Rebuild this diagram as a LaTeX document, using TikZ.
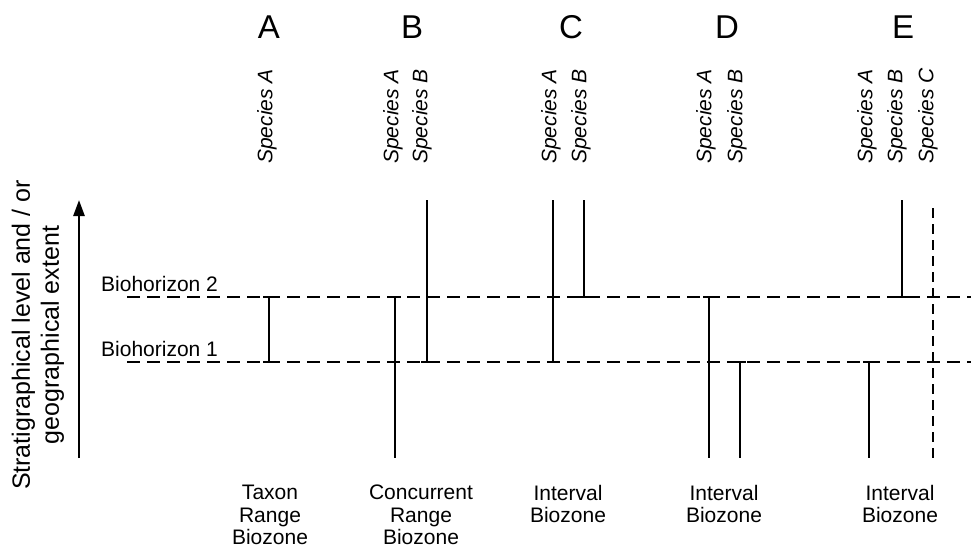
\documentclass[tikz,border=0pt]{standalone}
\usepackage{fontspec}
\setmainfont{Liberation Sans}
\usetikzlibrary{arrows.meta}
\begin{document}
\begin{tikzpicture}[x=1pt,y=-1pt,
  bigletter/.style={font=\fontsize{33}{33}\selectfont, anchor=base, inner sep=0pt},
  specieslabel/.style={font=\fontsize{21}{21}\selectfont\itshape, rotate=90, anchor=west, inner sep=0pt},
  zonelabel/.style={font=\fontsize{21}{22.5}\selectfont, align=center, anchor=north, inner sep=0pt},
  horizonlabel/.style={font=\fontsize{21}{21}\selectfont, anchor=base west, inner sep=0pt},
  rangeline/.style={line width=2.2pt},
  cdashline/.style={line width=2.6pt, dash pattern=on 10pt off 6pt},
  hdashline/.style={line width=1.5pt, dash pattern=on 13pt off 7pt}]
\useasboundingbox (0,0) rectangle (971,550);
% letters
\node[bigletter] (lA) at (269,38) {A};
\node[bigletter] (lB) at (412,38) {B};
\node[bigletter] (lC) at (571,38) {C};
\node[bigletter] (lD) at (727,38) {D};
\node[bigletter] (lE) at (903,38) {E};
% species labels
\node[specieslabel] (sAA) at (267,164) {Species A};
\node[specieslabel] (sBA) at (393,164) {Species A};
\node[specieslabel] (sBB) at (422,164) {Species B};
\node[specieslabel] (sCA) at (551,164) {Species A};
\node[specieslabel] (sCB) at (581,164) {Species B};
\node[specieslabel] (sDA) at (706,164) {Species A};
\node[specieslabel] (sDB) at (737,164) {Species B};
\node[specieslabel] (sEA) at (867,164) {Species A};
\node[specieslabel] (sEB) at (897,164) {Species B};
\node[specieslabel] (sEC) at (928,164) {Species C};
% axis
\coordinate (ax0) at (79,458);
\coordinate (ax1) at (79,200);
\draw[line width=2.6pt, -{Triangle[length=16pt,width=11pt]}] (ax0) -- (ax1);
\node[font=\fontsize{25}{29}\selectfont, align=center, rotate=90, inner sep=0pt] (axl) at (38,335) {Stratigraphical level and / or\\geographical extent};
% biohorizons
\node[horizonlabel] (bh2) at (101,291) {Biohorizon 2};
\node[horizonlabel] (bh1) at (101,356) {Biohorizon 1};
\coordinate (h2a) at (127,297); \coordinate (h2b) at (971,297);
\coordinate (h1a) at (127,362); \coordinate (h1b) at (971,362);
\draw[hdashline] (h2a) -- (h2b);
\draw[hdashline] (h1a) -- (h1b);
% A
\draw[rangeline] (269,297) -- (269,362);
\draw[rangeline] (263,297) -- (275,297);
\draw[rangeline] (263,362) -- (275,362);
% B
\draw[rangeline] (395,297) -- (395,458);
\draw[rangeline] (389,297) -- (401,297);
\draw[rangeline] (427,200) -- (427,362);
\draw[rangeline] (421,362) -- (433,362);
% C
\draw[rangeline] (553,200) -- (553,362);
\draw[rangeline] (547,362) -- (559,362);
\draw[rangeline] (584,200) -- (584,297);
\draw[rangeline] (578,297) -- (590,297);
% D
\draw[rangeline] (709,297) -- (709,458);
\draw[rangeline] (703,297) -- (715,297);
\draw[rangeline] (740,362) -- (740,458);
\draw[rangeline] (734,362) -- (746,362);
% E
\draw[rangeline] (869,362) -- (869,458);
\draw[rangeline] (863,362) -- (875,362);
\draw[rangeline] (902,200) -- (902,297);
\draw[rangeline] (896,297) -- (908,297);
\draw[cdashline] (933,208) -- (933,458);
% zone labels
\node[zonelabel] (zA) at (270,485) {Taxon\\Range\\Biozone};
\node[zonelabel] (zB) at (421,485) {Concurrent\\Range\\Biozone};
\node[zonelabel] (zC) at (568,485) {Interval\\Biozone};
\node[zonelabel] (zD) at (724,485) {Interval\\Biozone};
\node[zonelabel] (zE) at (900,485) {Interval\\Biozone};
\end{tikzpicture}
\end{document}
